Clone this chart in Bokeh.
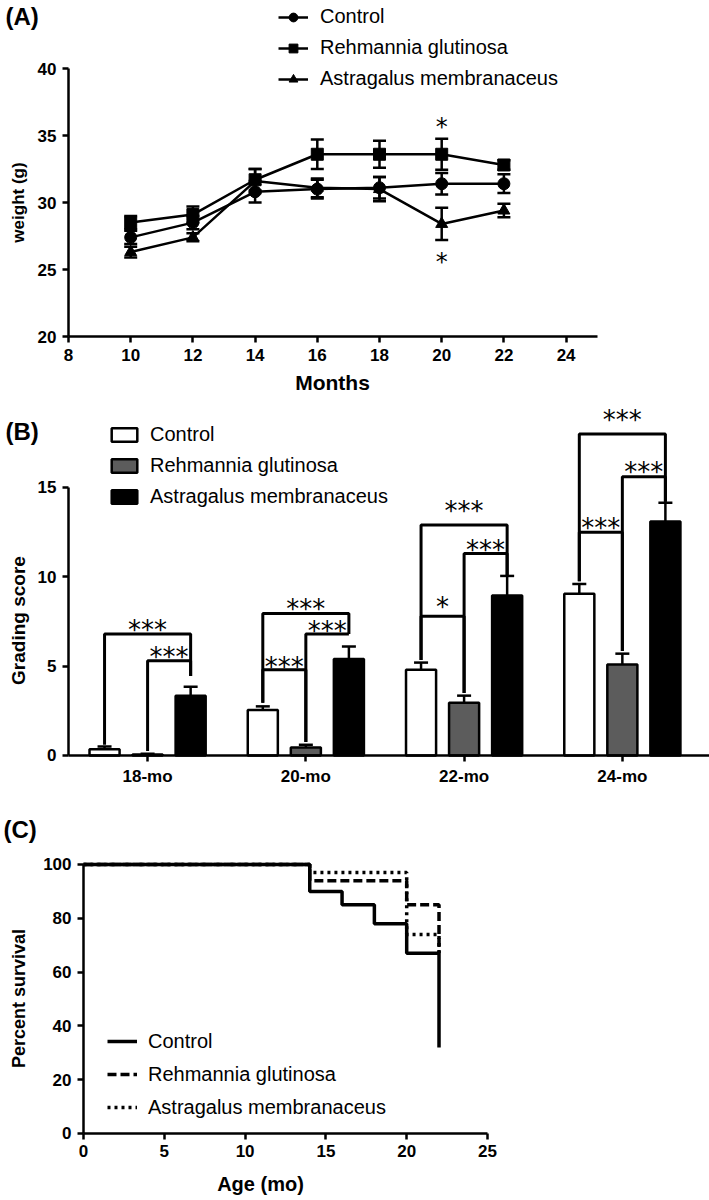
import numpy as np
from bokeh.plotting import figure
from bokeh.models import (ColumnDataSource, Whisker, TeeHead, Legend, LegendItem,
                          Label, FixedTicker, Range1d)
from bokeh.layouts import column
from bokeh.embed import file_html
from bokeh.resources import INLINE
from bokeh.core.properties import value

FONT = "Liberation Sans"
STARFONT = "DejaVu Sans"

# ---------------- Panel A data ----------------
months = [10, 12, 14, 16, 18, 20, 22]
ctrl_w = [27.4, 28.5, 30.8, 31.0, 31.1, 31.4, 31.4]
ctrl_w_err = [0.5, 0.5, 0.8, 0.7, 0.8, 0.8, 0.7]
reh_w = [28.5, 29.1, 31.7, 33.6, 33.6, 33.6, 32.8]
reh_w_err = [0.5, 0.6, 0.8, 1.1, 1.0, 1.15, 0.35]
ast_w = [26.3, 27.4, 31.6, 31.1, 31.0, 28.4, 29.4]
ast_w_err = [0.4, 0.3, 0.9, 0.7, 0.9, 1.2, 0.5]
starA_x = [20, 20]
starA_y = [36.0, 25.9]
xticksA = [8, 10, 12, 14, 16, 18, 20, 22, 24]
yticksA = [20, 25, 30, 35, 40]

# ---------------- Panel B data ----------------
groups = ["18-mo", "20-mo", "22-mo", "24-mo"]
ctrl_g = [0.35, 2.55, 4.8, 9.05]
ctrl_g_err = [0.15, 0.2, 0.4, 0.55]
reh_g = [0.05, 0.45, 2.95, 5.1]
reh_g_err = [0.05, 0.15, 0.4, 0.6]
ast_g = [3.35, 5.4, 8.95, 13.1]
ast_g_err = [0.5, 0.7, 1.1, 1.05]
# significance brackets: group, left series, right series, height, left foot, right foot, text, text y
br_group = [0, 0, 1, 1, 1, 2, 2, 2, 3, 3, 3]
br_left = [0, 1, 0, 1, 0, 0, 0, 1, 0, 1, 0]
br_right = [2, 2, 2, 2, 1, 1, 2, 2, 2, 2, 1]
br_h = [6.8, 5.3, 7.95, 6.8, 4.8, 7.8, 12.9, 11.3, 18.0, 15.6, 12.5]
br_lb = [0.6, 0.25, 2.95, 0.75, 2.95, 5.35, 5.35, 3.5, 9.75, 5.85, 9.75]
br_rb = [4.45, 4.45, 6.8, 6.8, 0.75, 3.5, 10.1, 10.1, 14.2, 14.2, 5.85]
br_text = ["***", "***", "***", "***", "***", "*", "***", "***", "***", "***", "***"]
br_text_y = [7.35, 5.85, 8.55, 7.3, 5.3, 8.65, 14.0, 11.85, 19.1, 16.2, 13.05]
yticksB = [0, 5, 10, 15]

# ---------------- Panel C data ----------------
ctrl_t = [0, 14, 16, 18, 20, 22]
ctrl_s = [100, 90, 85, 78, 67, 32]
reh_t = [0, 14, 20, 22]
reh_s = [100, 94, 85, 67]
ast_t = [0, 14, 20, 22]
ast_s = [100, 97, 74, 67]
xticksC = [0, 5, 10, 15, 20, 25]
yticksC = [0, 20, 40, 60, 80, 100]

W = 709


def style_axes(p, xloc, yloc, xb, yb, xt, yt):
    p.xaxis.fixed_location = xloc
    p.yaxis.fixed_location = yloc
    p.xaxis.bounds = xb
    p.yaxis.bounds = yb
    p.xaxis.ticker = FixedTicker(ticks=xt)
    p.yaxis.ticker = FixedTicker(ticks=yt)
    for ax in p.axis:
        ax.axis_line_width = 2.5
        ax.axis_line_color = "black"
        ax.major_tick_line_width = 2.5
        ax.major_tick_line_color = "black"
        ax.major_tick_out = 6
        ax.major_tick_in = 0
        ax.minor_tick_line_color = None
        ax.major_label_text_font = FONT
        ax.major_label_text_font_style = "bold"
        ax.major_label_text_font_size = "17px"
        ax.major_label_text_color = "black"
        ax.major_label_standoff = 6
    p.grid.visible = False
    p.outline_line_color = None


def make_fig(h, xr, yr):
    return figure(width=W, height=h, x_range=Range1d(*xr), y_range=Range1d(*yr),
                  min_border_left=0, min_border_right=0, min_border_top=0,
                  min_border_bottom=0, output_backend="svg", toolbar_location=None)


def add_label(p, x, y, text, size, bold=True, angle=0.0, align="left"):
    p.add_layout(Label(x=x, y=y, x_units="screen", y_units="screen", text=text,
                       text_font=FONT, text_font_style="bold" if bold else "normal",
                       text_font_size=size, angle=angle, text_align=align,
                       text_baseline="middle", text_color="black"))


def make_legend(items, loc, gw, gh, lh, sp, standoff):
    return Legend(items=items, location=loc, label_text_font=FONT,
                  label_text_font_size="20px", label_text_color="black",
                  glyph_width=gw, glyph_height=gh,
                  label_height=lh, label_standoff=standoff, spacing=sp, padding=0,
                  margin=0, background_fill_alpha=0, border_line_alpha=0)


# ================= Panel A =================
pA = make_fig(400, (5.8135, 28.611), (15.224, 45.075))
style_axes(pA, 20, 8, (8, 25), (20, 40), xticksA, yticksA)

itemsA = []
for name, vals, errs, mk in [("Control", ctrl_w, ctrl_w_err, "circle"),
                             ("Rehmannia glutinosa", reh_w, reh_w_err, "square"),
                             ("Astragalus membranaceus", ast_w, ast_w_err, "triangle")]:
    src = ColumnDataSource(dict(x=months, y=vals,
                                lo=[v - e for v, e in zip(vals, errs)],
                                hi=[v + e for v, e in zip(vals, errs)]))
    ln = pA.line("x", "y", source=src, line_width=2.5, line_color="black")
    sc = pA.scatter("x", "y", source=src, marker=mk, size=12, fill_color="black", line_color="black")
    pA.add_layout(Whisker(base="x", lower="lo", upper="hi", source=src, line_width=2.5,
                          line_color="black",
                          upper_head=TeeHead(size=13, line_width=2.5, line_color="black"),
                          lower_head=TeeHead(size=13, line_width=2.5, line_color="black")))
    itemsA.append(LegendItem(label=name, renderers=[ln, sc]))

pA.text(x=starA_x, y=starA_y, text=["*"] * len(starA_x), text_font=value(STARFONT),
        text_font_size="24px", text_align="center", text_baseline="middle", y_offset=5,
        text_color="black")
pA.add_layout(make_legend(itemsA, (278, 310), 30, 22, 22, 8, 12))
add_label(pA, 5, 384, "(A)", "24px")
add_label(pA, 18, 198, "weight (g)", "17px", angle=np.pi / 2, align="center")
add_label(pA, 332, 18, "Months", "21px", align="center")

# ================= Panel B =================
pB = make_fig(390, (-0.9295, 3.5507), (-1.959, 19.869))
gidx = np.arange(len(groups))
style_axes(pB, 0, -0.5, (-0.5, 3.5507), (0, 15), list(gidx), yticksB)
pB.xaxis.major_label_overrides = {int(i): g for i, g in zip(gidx, groups)}

offsets = [-0.272, 0.0, 0.272]
bar_w = 0.19
itemsB = []
for k, (name, vals, errs, fill) in enumerate([("Control", ctrl_g, ctrl_g_err, "white"),
                                              ("Rehmannia glutinosa", reh_g, reh_g_err, "#5c5c5c"),
                                              ("Astragalus membranaceus", ast_g, ast_g_err, "black")]):
    src = ColumnDataSource(dict(x=gidx + offsets[k], top=vals,
                                up=[v + e for v, e in zip(vals, errs)]))
    r = pB.vbar(x="x", top="top", width=bar_w, source=src, fill_color=fill,
                line_color="black", line_width=2.5)
    pB.add_layout(Whisker(base="x", lower="top", upper="up", source=src, line_width=2.5,
                          line_color="black",
                          upper_head=TeeHead(size=14, line_width=2.5, line_color="black"),
                          lower_head=TeeHead(size=1, line_alpha=0)))
    itemsB.append(LegendItem(label=name, renderers=[r]))

xs, ys, tx = [], [], []
for g, l, r_, h, lb, rb in zip(br_group, br_left, br_right, br_h, br_lb, br_rb):
    xl = g + offsets[l]
    xr = g + offsets[r_]
    xs.append([xl, xl, xr, xr])
    ys.append([lb, h, h, rb])
    tx.append((xl + xr) / 2)
pB.multi_line(xs=xs, ys=ys, line_color="black", line_width=3)
pB.text(x=tx, y=br_text_y, text=br_text, text_font=value(STARFONT), text_font_size="26px",
        text_align="center", text_baseline="middle", y_offset=6, text_color="black")
pB.add_layout(make_legend(itemsB, (108, 282), 32, 17, 22, 8, 10))
add_label(pB, 5, 359, "(B)", "24px")
add_label(pB, 18, 170, "Grading score", "19px", angle=np.pi / 2, align="center")

# ================= Panel C =================
pC = make_fig(408, (-5.136, 38.738), (-24.164, 127.509))
style_axes(pC, 0, 0, (0, 25), (0, 100), xticksC, yticksC)

rC_ast = pC.step(x=ast_t, y=ast_s, mode="after", line_color="black", line_width=3.5, line_dash="3 4")
rC_reh = pC.step(x=reh_t, y=reh_s, mode="after", line_color="black", line_width=3.5, line_dash="9 4")
rC_ctrl = pC.step(x=ctrl_t, y=ctrl_s, mode="after", line_color="black", line_width=3.5)

itemsC = [LegendItem(label="Control", renderers=[rC_ctrl]),
          LegendItem(label="Rehmannia glutinosa", renderers=[rC_reh]),
          LegendItem(label="Astragalus membranaceus", renderers=[rC_ast])]
pC.add_layout(make_legend(itemsC, (107, 79), 30, 24, 24, 9, 11))
add_label(pC, 3, 369, "(C)", "24px")
add_label(pC, 18, 200, "Percent survival", "18px", angle=np.pi / 2, align="center")
add_label(pC, 260, 15, "Age (mo)", "20px", align="center")

layout = column(pA, pB, pC, spacing=0)
open("out.html", "w").write(file_html(layout, INLINE))
